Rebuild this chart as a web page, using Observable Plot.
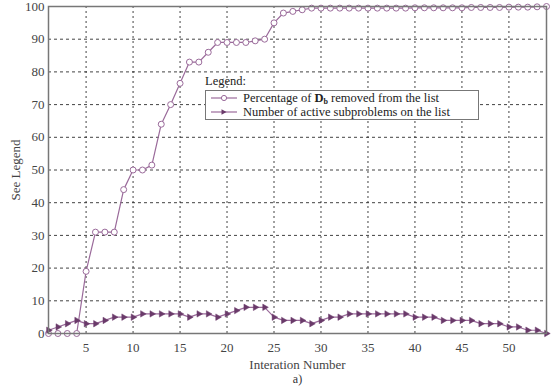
<!DOCTYPE html>
<html><head><meta charset="utf-8">
<script src="https://cdn.jsdelivr.net/npm/d3@7"></script>
<script src="https://cdn.jsdelivr.net/npm/@observablehq/plot@0.6"></script>
<style>
body{margin:0;background:#fff;}
#wrap{position:relative;width:553px;height:389px;font-family:"Liberation Serif","Times New Roman","DejaVu Serif",serif;}
#wrap svg text{font-family:"Liberation Serif","Times New Roman","DejaVu Serif",serif;}
#legend{position:absolute;left:205px;top:74px;font-size:12.5px;color:#222;}
#legend .box{border:1px solid #777;background:#fff;padding:0 6px 0 4px;margin-top:1px;width:262px;}
#legend .row{display:flex;align-items:center;height:14px;line-height:14px;white-space:nowrap;}
#legend svg{margin-right:5px;flex:none;}
#legend sub{font-size:8px;vertical-align:-2px;line-height:0;}
</style></head>
<body><div id="wrap"></div>
<script>
const iterations = d3.range(1, 55);
const percentRemoved = [0,0,0,0,19,31,31,31,44,50,50,51.5,64,70,76.5,83,83,86,89,89,89,89,89.5,90,95,98,98.5,99,99.5,99.5,99.5,99.5,99.5,99.5,99.5,99.5,99.5,99.5,99.5,99.6,99.6,99.6,99.6,99.6,99.6,99.7,99.7,99.7,99.7,99.8,99.8,99.8,99.9,100];
const activeSubproblems = [1,2,3,4,3,3,4,5,5,5,6,6,6,6,6,5,6,6,5,6,7,8,8,8,5,4,4,4,3,4,5,5,6,6,6,6,6,6,6,5,5,5,4,4,4,4,3,3,3,2,2,1,1,0];
const xTicks = [5,10,15,20,25,30,35,40,45,50];
const yTicks = [0,10,20,30,40,50,60,70,80,90,100];
const seriesNames = ["Percentage of D_b removed from the list","Number of active subproblems on the list"];

const pct = iterations.map((x,i)=>({x, y: percentRemoved[i]}));
const act = iterations.map((x,i)=>({x, y: activeSubproblems[i]}));
const lineColor = "#9a6a9a";
const markColor = "#6a3a6a";
const serif = "'Liberation Serif', 'Times New Roman', 'DejaVu Serif', serif";

const chart = Plot.plot({
  width: 553, height: 389,
  marginLeft: 48, marginRight: 7, marginTop: 6, marginBottom: 56,
  style: {fontFamily: serif, fontSize: "13px", color: "#444", background: "#fff"},
  x: {domain: [1, 54], ticks: xTicks},
  y: {domain: [0, 100], ticks: yTicks},
  marks: [
    Plot.gridX(xTicks, {stroke: "#222", strokeOpacity: 0.85, strokeDasharray: "2,3"}),
    Plot.gridY(yTicks, {stroke: "#222", strokeOpacity: 0.85, strokeDasharray: "3,3"}),
    Plot.axisX({ticks: xTicks, tickSize: 0, tickPadding: 9, label: "Interation Number", labelAnchor: "center", labelArrow: "none", labelOffset: 35, fill: "#444"}),
    Plot.axisY({ticks: yTicks, tickSize: 0, tickPadding: 4, label: "See Legend", labelAnchor: "center", labelArrow: "none", labelOffset: 38, fill: "#444"}),
    Plot.text(["a)"], {frameAnchor: "bottom", dy: 49, fill: "#333", fontSize: 12}),
    Plot.line(pct, {x: "x", y: "y", stroke: lineColor, strokeWidth: 1.2}),
    Plot.line(act, {x: "x", y: "y", stroke: lineColor, strokeWidth: 1.2}),
    Plot.dot(pct, {x: "x", y: "y", r: 3, stroke: lineColor, fill: "#fff", strokeWidth: 1}),
    Plot.dot(act, {x: "x", y: "y", symbol: "triangle", rotate: 90, r: 2.4, fill: markColor, stroke: markColor, strokeWidth: 0.5}),
    Plot.frame({stroke: "#777", strokeWidth: 1.5})
  ]
});
const wrap = document.getElementById("wrap");
wrap.appendChild(chart);

const legend = document.createElement("div");
legend.id = "legend";
const circleSample = `<svg width="28" height="10"><line x1="1" y1="5" x2="27" y2="5" stroke="${lineColor}" stroke-width="1.2"/><circle cx="14" cy="5" r="2.6" fill="#fff" stroke="${lineColor}"/></svg>`;
const triSample = `<svg width="28" height="10"><line x1="1" y1="5" x2="27" y2="5" stroke="${lineColor}" stroke-width="1.2"/><path d="M11.5,2.2L16.5,5L11.5,7.8Z" fill="${markColor}"/></svg>`;
const parts = seriesNames[0].split("D_b");
legend.innerHTML = `<div>Legend:</div><div class="box">
<div class="row">${circleSample}<span>${parts[0]}<b>D<sub>b</sub></b>${parts[1]}</span></div>
<div class="row">${triSample}<span>${seriesNames[1]}</span></div></div>`;
wrap.appendChild(legend);
</script></body></html>
